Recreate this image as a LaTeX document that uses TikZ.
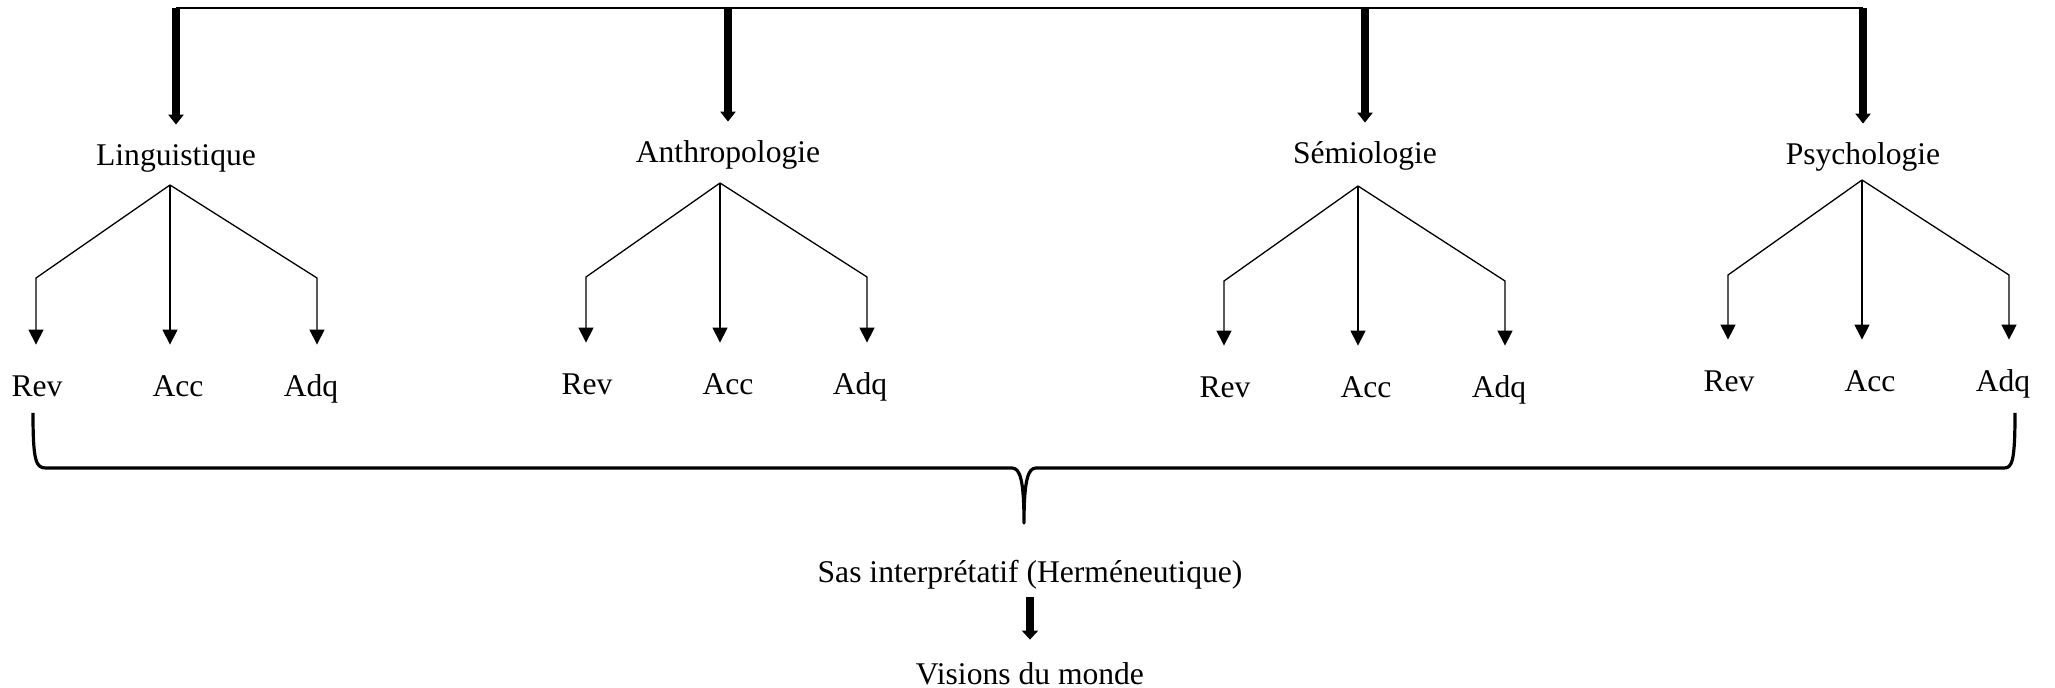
\documentclass[tikz,border=0pt]{standalone}
\usepackage{fontspec}
\setmainfont{Liberation Serif}
\usetikzlibrary{arrows.meta}
\usetikzlibrary{calc}

\tikzset{
    lbl/.style={inner sep=0pt, text height=11pt, text depth=4pt, anchor=base,
        font=\fontsize{15.8}{19}\selectfont},
    branch/.style={line width=0.65pt, -{Triangle[width=7.5pt,length=7.5pt]}, shorten >=15pt},
    bigarrow/.style={line width=3.8pt, -{Triangle[width=7.5pt,length=5pt]}},
    brace/.style={line width=1.6pt, line join=round}
}

\begin{document}
\begin{tikzpicture}[x=0.5pt, y=-0.5pt]
        \useasboundingbox (0,0) rectangle (2055,688);
        % disciplines and their three leaves
        \foreach \g/\txt/\hx/\hb/\ax/\ay/\lx/\rx/\cy/\lb/\rvx/\acx/\adx in {
            ling/Linguistique/176/166/170/185/36/317/278/397/37/178/311,
            anth/Anthropologie/728/163/720/183/586/867/277/395/587/728/860,
            semi/Sémiologie/1365/164/1358/186/1224/1505/281/398/1225/1366/1499,
            psy/Psychologie/1863/165/1862/180/1728/2009/275/392/1729/1870/2003} {
            \coordinate (top-\g) at (\hx,8);
            \node [lbl] (\g) at (\hx,\hb) {\txt};
            \coordinate (\g-apex) at (\ax,\ay);
            \coordinate (\g-left) at (\lx,\cy);
            \coordinate (\g-right) at (\rx,\cy);
            \node [lbl] (\g-rev) at (\rvx,\lb) {Rev};
            \node [lbl] (\g-acc) at (\acx,\lb) {Acc};
            \node [lbl] (\g-adq) at (\adx,\lb) {Adq};
            \draw [bigarrow, shorten >=9.5pt] (top-\g) -- (\g.north);
            \draw [branch] (\g-apex) -- (\g-left) -- (\g-left |- \g-rev.north);
            \draw [branch] (\g-apex) -- (\g-apex |- \g-acc.north);
            \draw [branch] (\g-apex) -- (\g-right) -- (\g-right |- \g-adq.north);
        };
        \draw [line width=0.7pt] (top-ling) -- (top-psy);

        % brace gathering everything
        \coordinate (brace-tip) at (1024,523);
        \draw [brace] (33,413) .. controls (33,462) and (36,468) .. (46,468) -- (1012,468)
            .. controls (1020,468) and (1024,480) .. (brace-tip)
            .. controls (1024,480) and (1028,468) .. (1036,468) -- (2004,468)
            .. controls (2012,468) and (2015,462) .. (2015,413);

        \node [lbl] (sas) at (1030,583) {Sas interprétatif (Herméneutique)};
        \node [lbl] (monde) at (1030,684) {Visions du monde};
        \draw [bigarrow, line width=4pt, -{Triangle[width=8pt,length=4.5pt]},
            shorten <=3pt, shorten >=11pt] (sas.south) -- (monde.north);
    \end{tikzpicture}
\end{document}
